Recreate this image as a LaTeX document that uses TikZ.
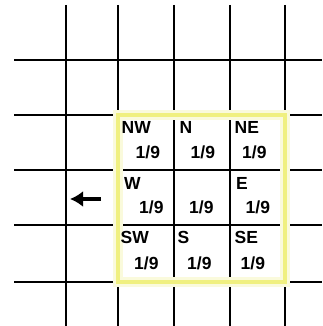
\documentclass[tikz,border=0pt]{standalone}
\usepackage{fontspec}
\setmainfont{Liberation Sans}
\usetikzlibrary{arrows.meta}
\definecolor{MaskYellow}{HTML}{F0F080}
\definecolor{MaskGlow}{HTML}{FAFADC}

\begin{document}
\begin{tikzpicture}[x=1pt,y=-1pt,>=Latex,
 gridline/.style={draw=black,line width=2.3pt},
 dirlbl/.style={anchor=base west,inner sep=0pt,font=\bfseries\fontsize{17.5}{19}\selectfont},
 weight/.style={anchor=base west,inner sep=0pt,font=\bfseries\fontsize{17.5}{19}\selectfont}]
 \useasboundingbox[fill=white] (0,0) rectangle (322,326);
 % grid
 \draw[gridline] (66,5)--(66,326);
 \draw[gridline] (118,5)--(118,326);
 \draw[gridline] (174,5)--(174,326);
 \draw[gridline] (230,5)--(230,326);
 \draw[gridline] (285,5)--(285,326);
 \draw[gridline] (14,60)--(322,60);
 \draw[gridline] (14,115)--(322,115);
 \draw[gridline] (14,170)--(322,170);
 \draw[gridline] (14,225)--(322,225);
 \draw[gridline] (14,282)--(322,282);
 % 3x3 mask
 \draw[MaskGlow,line width=10pt] (118,115) rectangle (285,282);
 \draw[MaskYellow,line width=3.2pt] (118,115) rectangle (285,282);
 \node[dirlbl] (nw) at (121.5,133.5) {NW};
 \node[dirlbl] (n) at (179.5,133.5) {N};
 \node[dirlbl] (ne) at (234.5,133.5) {NE};
 \node[dirlbl] (w) at (124,189.5) {W};
 \node[dirlbl] (e) at (236,189.5) {E};
 \node[dirlbl] (sw) at (120.5,243.5) {SW};
 \node[dirlbl] (s) at (177.5,243.5) {S};
 \node[dirlbl] (se) at (234.5,243.5) {SE};
 \node[weight] (wnw) at (135.5,158.5) {1/9};
 \node[weight] (wn) at (190.5,158.5) {1/9};
 \node[weight] (wne) at (242,158.5) {1/9};
 \node[weight] (ww) at (139,213.5) {1/9};
 \node[weight] (wc) at (189,213.5) {1/9};
 \node[weight] (we) at (245.5,213.5) {1/9};
 \node[weight] (wsw) at (134,269.5) {1/9};
 \node[weight] (ws) at (187,269.5) {1/9};
 \node[weight] (wse) at (240.5,269.5) {1/9};
 % direction arrow
 \coordinate (arrtail) at (101,199);
 \coordinate (arrhead) at (70,199);
 \draw[-{Latex[length=13pt,width=16pt]},line width=3.2pt] (arrtail)--(arrhead);
\end{tikzpicture}
\end{document}
